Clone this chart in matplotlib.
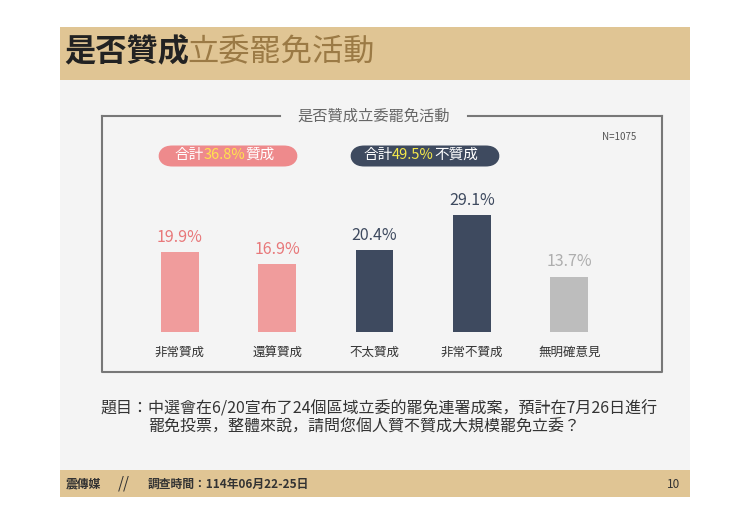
import matplotlib
matplotlib.use("Agg")
import matplotlib.pyplot as plt
from matplotlib import font_manager
from matplotlib.patches import Rectangle, FancyBboxPatch

cjk = [f.name for f in font_manager.fontManager.ttflist if "CJK" in f.name]
pref = [n for n in ["Noto Sans CJK TC", "Noto Sans CJK JP", "Noto Sans CJK SC"] if n in cjk] + cjk
plt.rcParams['font.family'] = 'sans-serif'
plt.rcParams['font.sans-serif'] = pref[:1] + ['DejaVu Sans']

categories = ["非常贊成", "還算贊成", "不太贊成", "非常不贊成", "無明確意見"]
values = [19.9, 16.9, 20.4, 29.1, 13.7]
bar_colors = ["#F09C9C", "#F09C9C", "#3E4A5F", "#3E4A5F", "#BDBDBD"]
label_colors = ["#E8787A", "#E8787A", "#3E4A5F", "#3E4A5F", "#AEAEAE"]
title_dark = "是否贊成"
title_light = "立委罷免活動"
chart_title = "是否贊成立委罷免活動"
sum_agree = "36.8%"
sum_disagree = "49.5%"

W, H = 750, 523
fig = plt.figure(figsize=(7.5, 5.23), dpi=100)
fig.patch.set_facecolor("white")
renderer = fig.canvas.get_renderer()

def fx(x): return x / W
def fy(y): return 1 - y / H

def rect(x0, y0, x1, y1, **kw):
    fig.add_artist(Rectangle((fx(x0), fy(y1)), fx(x1) - fx(x0), fy(y0) - fy(y1),
                             transform=fig.transFigure, zorder=-5, **kw))

def chain(x, y, parts, **kw):
    for s, c in parts:
        t = fig.text(fx(x), fy(y), s, color=c, va='center', **kw)
        x += t.get_window_extent(renderer).width
    return x

gold = "#E0C594"
rect(60, 27, 690, 80, color=gold, lw=0)
rect(60, 80, 690, 470, color="#F4F4F4", lw=0)
rect(60, 470, 690, 497, color=gold, lw=0)

xe = chain(64, 52, [(title_dark, "#222222")], fontsize=22.5, fontweight='bold')
chain(xe - 2, 52, [(title_light, "#9B7A45")], fontsize=22.5)

lc = "#777777"
fig.add_artist(plt.Line2D([fx(102), fx(102), fx(662), fx(662)], [fy(116), fy(372), fy(372), fy(116)],
                          color=lc, lw=1.5, transform=fig.transFigure))
fig.add_artist(plt.Line2D([fx(102), fx(280)], [fy(116), fy(116)], color=lc, lw=1.5, transform=fig.transFigure))
fig.add_artist(plt.Line2D([fx(468), fx(662)], [fy(116), fy(116)], color=lc, lw=1.5, transform=fig.transFigure))
fig.text(fx(374), fy(116), chart_title, fontsize=11, color="#666666", ha='center', va='center')
fig.text(fx(636), fy(137), "N=1075", fontsize=7, color="#555555", ha='right', va='center')

def pill(x0, x1, yc, color):
    h = 21
    fig.add_artist(FancyBboxPatch((fx(x0), fy(yc + h / 2)), fx(x1) - fx(x0), h / H,
                                  boxstyle="round,pad=0,rounding_size=0.019",
                                  transform=fig.transFigure, color=color, lw=0,
                                  mutation_aspect=W / H))

pill(158, 298, 156, "#EE8A8C")
pill(350, 500, 156, "#3E4A5F")
fs = 10.5
chain(174, 155, [("合計", "white"), (sum_agree, "#FFE34D"), ("贊成", "white")], fontsize=fs)
chain(363, 155, [("合計", "white"), (sum_disagree, "#F5E94A"), ("不贊成", "white")], fontsize=fs)

ax = fig.add_axes([fx(131), fy(332), fx(618) - fx(131), (332 - 170) / H], zorder=5)
ax.set_facecolor("none")
xs = range(len(values))
ax.bar(xs, values, width=0.39, color=bar_colors)
for x, v, c in zip(xs, values, label_colors):
    ax.text(x, v + 1.6, f"{v}%", ha='center', va='bottom', fontsize=11.5, color=c)
ax.set_xlim(-0.5, len(values) - 0.5)
ax.set_ylim(0, 162 / 4.02)
ax.set_xticks(list(xs))
ax.set_xticklabels(categories, fontsize=9, color="#333333")
ax.tick_params(axis='x', length=0, pad=10)
ax.set_yticks([])
for s in ["top", "left", "right", "bottom"]:
    ax.spines[s].set_visible(False)

fig.text(fx(100), fy(409), "題目：中選會在6/20宣布了24個區域立委的罷免連署成案，預計在7月26日進行",
         fontsize=11.5, color="#333333", va='center')
fig.text(fx(148), fy(427), "罷免投票，整體來說，請問您個人贊不贊成大規模罷免立委？",
         fontsize=11.5, color="#333333", va='center')

fig.text(fx(66), fy(484), "震傳媒", fontsize=8.5, color="#333333", va='center', fontweight='bold')
fig.text(fx(124), fy(484), "//", fontsize=11, color="#333333", va='center', ha='center', style='italic')
fig.text(fx(148), fy(484), "調查時間：114年06月22-25日", fontsize=8.5, color="#333333", va='center', fontweight='bold')
fig.text(fx(680), fy(484), "10", fontsize=8.5, color="#333333", va='center', ha='right')

fig.savefig("out.png", dpi=100, facecolor="white")
